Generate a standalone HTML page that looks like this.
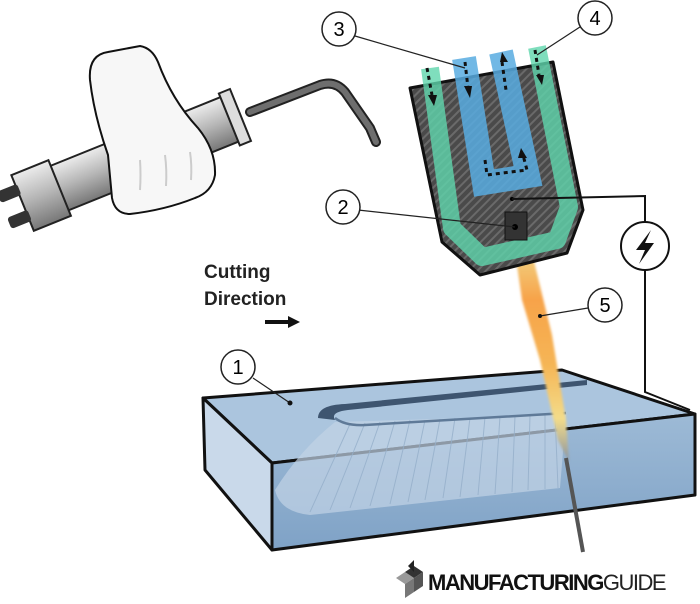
<!DOCTYPE html>
<html><head><meta charset="utf-8"><style>
html,body{margin:0;padding:0;background:#fff;width:700px;height:604px;overflow:hidden}
svg{display:block}
text{font-family:"Liberation Sans",sans-serif}
</style></head><body>
<svg width="700" height="604" viewBox="0 0 700 604" xmlns="http://www.w3.org/2000/svg">
<defs>
<pattern id="hatch" width="6" height="6" patternUnits="userSpaceOnUse" patternTransform="rotate(45)">
<rect width="6" height="6" fill="#4a4a4a"/><rect width="2" height="6" fill="#6a6a6a"/></pattern>
<linearGradient id="flame" x1="0" y1="0" x2="0" y2="1">
<stop offset="0" stop-color="#f0d98a"/><stop offset="0.25" stop-color="#f7a34a"/><stop offset="0.55" stop-color="#f5b555"/><stop offset="0.8" stop-color="#f3dc8a"/><stop offset="1" stop-color="#8a93a0"/></linearGradient>
<linearGradient id="grip" x1="0" y1="0" x2="0" y2="1">
<stop offset="0" stop-color="#ececec"/><stop offset="0.5" stop-color="#b5b5b5"/><stop offset="1" stop-color="#777"/></linearGradient>
<linearGradient id="front" x1="0" y1="0" x2="0" y2="1">
<stop offset="0" stop-color="#9dbad6"/><stop offset="1" stop-color="#7fa2c6"/></linearGradient>
<filter id="blur"><feGaussianBlur stdDeviation="1.2"/></filter>
</defs>

<!-- torch -->
<path d="M250 112 L320 85 Q335 80 345 92 L370 128 L376 142" fill="none" stroke="#222" stroke-width="10" stroke-linecap="round" stroke-linejoin="round"/>
<path d="M250 112 L320 85 Q335 80 345 92 L370 128 L376 142" fill="none" stroke="#6e6e6e" stroke-width="6" stroke-linecap="round" stroke-linejoin="round"/>
<g transform="rotate(-22 30 200)">
<rect x="30" y="176" width="220" height="48" fill="url(#grip)" stroke="#222" stroke-width="2"/>
<rect x="245" y="172" width="12" height="56" fill="#ddd" stroke="#222" stroke-width="2"/>
<rect x="22" y="170" width="40" height="60" fill="url(#grip)" stroke="#222" stroke-width="2"/>
<rect x="2" y="180" width="22" height="12" rx="3" fill="#333"/>
<rect x="2" y="208" width="22" height="12" rx="3" fill="#333"/>
</g>
<!-- hand -->
<path d="M90 80 Q88 55 108 52 L140 46 Q152 48 158 62 Q172 100 198 128 Q216 150 215 175 Q212 192 195 198 Q165 210 130 214 Q115 214 112 198 L108 155 Q94 115 90 80 Z" fill="#f7f7f7" stroke="#111" stroke-width="2"/>
<path d="M140 160 Q141 175 140 190 M165 155 Q167 170 166 186 M190 152 Q192 165 191 180" fill="none" stroke="#ccc" stroke-width="2"/>

<!-- block -->
<polygon points="203,398 562,370 695,414 272,463" fill="#abc5de" stroke="#111" stroke-width="3" stroke-linejoin="round"/>
<polygon points="272,463 695,414 695,495 272,550" fill="url(#front)" stroke="#111" stroke-width="3" stroke-linejoin="round"/>
<polygon points="203,398 272,463 272,550 205,470" fill="#c9d9ea" stroke="#111" stroke-width="3" stroke-linejoin="round"/>
<!-- cut surface -->
<path d="M335 422 Q300 450 275 490 Q280 512 310 515 L560 488 L566 415 Z" fill="#c2d3e5" opacity="0.7"/>
<g stroke="#95afca" stroke-width="1" opacity="0.8">
<line x1="350" y1="424" x2="310" y2="512"/><line x1="365" y1="423" x2="330" y2="510"/><line x1="380" y1="422" x2="350" y2="508"/><line x1="395" y1="421" x2="370" y2="506"/><line x1="410" y1="420" x2="390" y2="504"/>
<line x1="425" y1="420" x2="408" y2="502"/><line x1="440" y1="419" x2="425" y2="500"/><line x1="455" y1="418" x2="443" y2="498"/><line x1="470" y1="418" x2="460" y2="497"/><line x1="485" y1="417" x2="478" y2="495"/><line x1="500" y1="416" x2="495" y2="494"/>
<line x1="515" y1="416" x2="512" y2="492"/><line x1="530" y1="415" x2="528" y2="490"/><line x1="545" y1="414" x2="545" y2="489"/><line x1="555" y1="414" x2="558" y2="488"/>
</g>
<!-- kerf -->
<path d="M318 418 Q318 405 345 404 L587 380 L587 385 L348 410 Q330 412 335 420 Z" fill="#3e5570"/>
<path d="M335 418 Q345 426 365 425 L566 413" fill="none" stroke="#5f7a98" stroke-width="2.5"/>

<!-- flame -->
<polygon points="514,245 530,245 552,335 566,420 569,462 558,440 540,360 522,300" fill="url(#flame)" filter="url(#blur)"/>
<line x1="566" y1="458" x2="583" y2="552" stroke="#555" stroke-width="4"/>

<!-- nozzle -->
<polygon points="410,88 553,62 583,210 567,253 480,275 442,242" fill="url(#hatch)" stroke="#111" stroke-width="3" stroke-linejoin="round"/>
<path d="M430,68 L452,228 L482,257 L557,240 L569,207 L537,47" fill="none" stroke="#5fd6ac" stroke-width="18" stroke-linejoin="round" opacity="0.8"/>
<path d="M464,58 L484,183 L528,176 L501,52" fill="none" stroke="#58abe0" stroke-width="24" stroke-linejoin="miter" opacity="0.85"/>
<rect x="505" y="212" width="22" height="28" fill="#333" stroke="#111"/>
<circle cx="515" cy="227" r="3" fill="#000"/>
<circle cx="512" cy="199" r="2" fill="#000"/>
<g stroke="#111" stroke-width="3" stroke-dasharray="4,4" fill="none">
<line x1="427" y1="68" x2="432" y2="95"/><line x1="465" y1="62" x2="468" y2="88"/>
<line x1="502" y1="62" x2="506" y2="90"/><line x1="535" y1="50" x2="539" y2="75"/>
<polyline points="485,160 487,175 527,170 523,155"/>
</g>
<g fill="#111">
<polygon points="428,95 437,95 434,106"/><polygon points="464,86 472,86 470,98"/>
<polygon points="500,62 508,62 502,52"/><polygon points="536,75 544,75 542,85"/>
<polygon points="518,158 527,158 521,148"/>
</g>

<!-- electrical -->
<polyline points="512,199 645,196 645,222" fill="none" stroke="#111" stroke-width="2"/>
<polyline points="645,270 645,392 690,410" fill="none" stroke="#111" stroke-width="2"/>
<circle cx="645" cy="246" r="24" fill="#fff" stroke="#111" stroke-width="2"/>
<polygon points="651,230 636,250 645,250 639,264 654,243 645,243" fill="#111"/>

<!-- callouts -->
<g stroke="#222" stroke-width="1.2" fill="none">
<line x1="355" y1="36" x2="465" y2="68"/>
<line x1="583" y1="25" x2="537" y2="55"/>
<line x1="358" y1="210" x2="515" y2="227"/>
<line x1="588" y1="308" x2="540" y2="316"/>
<line x1="253" y1="378" x2="290" y2="403"/>
</g>
<circle cx="290" cy="403" r="2.5" fill="#111"/>
<circle cx="540" cy="316" r="2" fill="#111"/>
<g fill="#fff" stroke="#222" stroke-width="1.5">
<circle cx="339" cy="29" r="17"/><circle cx="595" cy="18" r="17"/>
<circle cx="343" cy="207" r="17"/><circle cx="605" cy="305" r="17"/>
<circle cx="238" cy="367" r="17"/>
</g>
<g font-size="20" text-anchor="middle">
<text x="339" y="36">3</text><text x="595" y="25">4</text>
<text x="343" y="214">2</text><text x="605" y="312">5</text><text x="238" y="374">1</text>
</g>

<text x="204" y="278" font-size="19" font-weight="bold" fill="#222">Cutting</text>
<text x="204" y="305" font-size="19" font-weight="bold" fill="#222">Direction</text>
<line x1="265" y1="322" x2="290" y2="322" stroke="#111" stroke-width="4"/>
<polygon points="288,316 300,322 288,328" fill="#111"/>

<!-- logo -->
<g>
<polygon points="396,578 405,572 414,578 405,584" fill="#999"/>
<polygon points="405,572 414,566 423,572 414,578" fill="#333"/>
<polygon points="414,578 423,572 423,586 414,592" fill="#555"/>
<polygon points="405,584 414,578 414,592 405,598" fill="#777"/>
<polygon points="408,566 414,560 414,572" fill="#222"/>
</g>
<text x="428" y="590" font-size="22" font-weight="bold" fill="#111" letter-spacing="-1.5">MANUFACTURING<tspan font-weight="normal" fill="#222">GUIDE</tspan></text>
</svg>
</body></html>
